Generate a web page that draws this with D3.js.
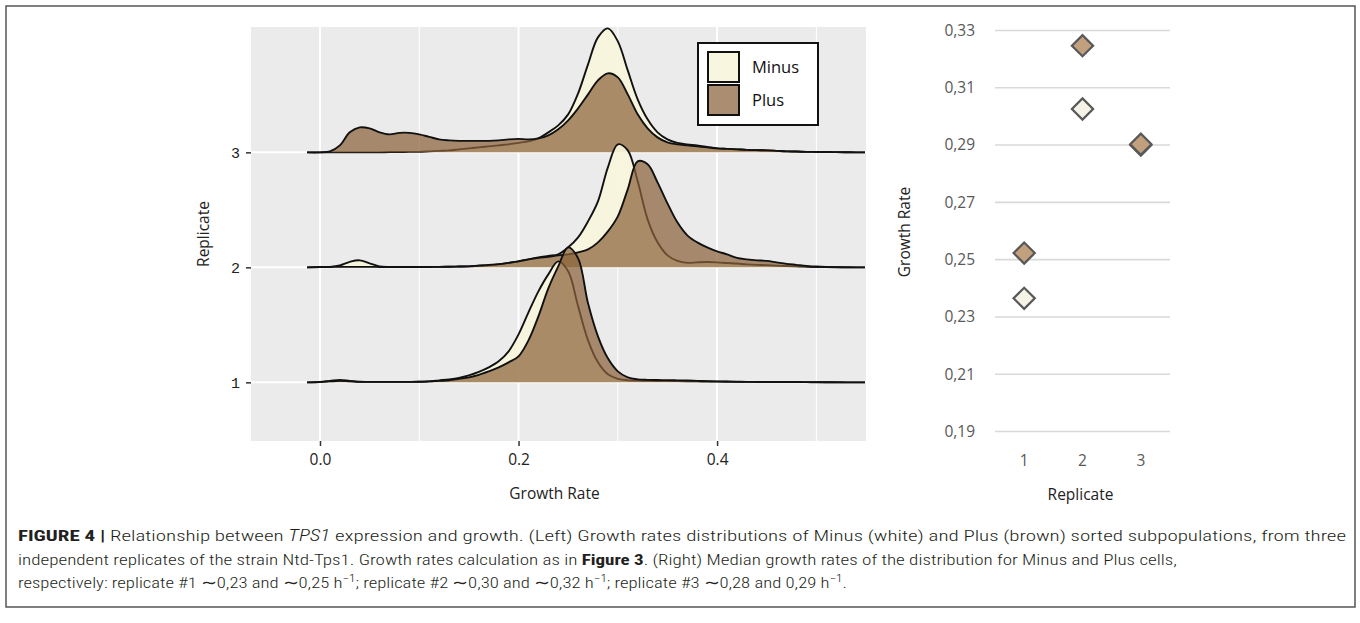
<!DOCTYPE html>
<html>
<head>
<meta charset="utf-8">
<script src="https://cdn.jsdelivr.net/npm/d3@7"></script>
<style>
  body { margin: 0; background: #fff; }
  svg { display: block; }
</style>
</head>
<body>
<svg id="fig" width="1360" height="623"></svg>
<script>
"use strict";

// growth rate grid (h-1) on which the ridge heights were read
var growthGrid = [-0.013, 0.00, 0.01, 0.02, 0.03, 0.04, 0.05, 0.06, 0.07, 0.08, 0.09,
  0.10, 0.11, 0.12, 0.13, 0.14, 0.15, 0.16, 0.17, 0.18, 0.19,
  0.20, 0.21, 0.22, 0.23, 0.24, 0.25, 0.26, 0.27, 0.28, 0.29,
  0.30, 0.31, 0.32, 0.33, 0.34, 0.35, 0.36, 0.37, 0.38, 0.39,
  0.40, 0.41, 0.42, 0.43, 0.44, 0.45, 0.46, 0.47, 0.48, 0.49,
  0.50, 0.51, 0.52, 0.53, 0.54, 0.549];

// ridge heights (density, a.u.; 115 = one replicate row)
var rep3Minus = [0, 0, 0, 0, 0, 0, 0, 0, 0.3, 0.3, 0.5,
  0.5, 1, 1.5, 2, 3, 4, 5, 6, 7, 8,
  9.5, 11, 14, 20, 27, 38, 59, 88, 115, 124,
  111, 82, 53, 33, 20, 13, 9.5, 8, 7, 5.5,
  4, 3.5, 3, 2.5, 2.2, 2, 1.5, 1, 0.8, 0.5,
  0.4, 0.3, 0.2, 0.1, 0, 0];
var rep3Plus = [0, 0, 1, 7, 20, 25, 24, 20, 18, 19.5, 19.5,
  18, 15.5, 13, 12, 11.5, 11.5, 11.5, 11.5, 12, 13,
  13.5, 13, 14, 17, 23, 32, 44, 58, 72, 79,
  75, 58, 38, 24, 15, 10, 8, 7, 6, 5,
  4, 3.5, 3, 2.5, 2.2, 2, 1.5, 1, 0.8, 0.5,
  0.4, 0.3, 0.2, 0.1, 0, 0];
var rep2Minus = [0, 0.2, 0.5, 2, 5.5, 7, 4, 1, 0.4, 0.3, 0.3,
  0.3, 0.4, 0.5, 0.6, 0.8, 1, 1.5, 2, 3, 4.5,
  6, 8, 10, 11.5, 13, 20, 30, 46, 66, 100,
  123, 117, 86, 48, 25, 12, 6.5, 4.5, 5, 5.3,
  5, 4.3, 3.8, 3, 2.5, 2.2, 1.7, 1.3, 1, 0.6,
  0.3, 0.2, 0.1, 0, 0, 0];
var rep2Plus = [0, 0.3, 0.4, 0.5, 0.5, 0.5, 0.5, 0.4, 0.3, 0.3, 0.3,
  0.3, 0.4, 0.5, 0.6, 0.8, 1, 1.8, 2.5, 3.2, 4.5,
  6, 8, 9.5, 10.5, 12, 13, 15, 18, 25, 36,
  51, 78, 106, 103, 85, 64, 45, 32, 25, 20,
  16, 13, 9.5, 8, 7, 6.5, 5, 3.5, 2.5, 1.5,
  0.8, 0.4, 0.2, 0.1, 0, 0];
var rep1Minus = [0, 0.5, 1.5, 2.5, 1.5, 0.6, 0.5, 0.5, 0.5, 0.5, 0.5,
  0.6, 1, 2, 3, 4.5, 7, 10.5, 15, 21, 31,
  48, 70, 91, 108, 121, 111, 76, 42, 20, 8,
  3.5, 2, 1.8, 1.5, 1.3, 1.2, 1.2, 1.1, 1, 0.8,
  0.7, 0.6, 0.5, 0.5, 0.4, 0.4, 0.3, 0.3, 0.2, 0.2,
  0.1, 0.1, 0, 0, 0, 0];
var rep1Plus = [0, 0.3, 1, 1.5, 1, 0.5, 0.5, 0.5, 0.5, 0.5, 0.5,
  0.6, 1, 1.5, 2, 3.5, 5, 7.5, 11, 15, 20,
  26, 42, 66, 94, 116, 135, 124, 79, 46, 24,
  11, 5, 3, 2.5, 2.3, 2.2, 2, 1.8, 1.5, 1.2,
  1, 0.8, 0.6, 0.5, 0.5, 0.4, 0.4, 0.3, 0.3, 0.2,
  0.2, 0.1, 0.1, 0, 0, 0];

var replicates = [1, 2, 3];
var groups = ["Minus", "Plus"];
var growthTicks = [0.0, 0.2, 0.4];
var growthMinor = [0.1, 0.3, 0.5];

// right panel: median growth rates
var medianMinus = [0.2365, 0.3026, 0.2900];
var medianPlus = [0.2523, 0.3247, 0.2903];
var medianTicks = [0.19, 0.21, 0.23, 0.25, 0.27, 0.29, 0.31, 0.33];

var ridges = [
  { rep: 3, group: "Minus", values: rep3Minus },
  { rep: 3, group: "Plus", values: rep3Plus },
  { rep: 2, group: "Minus", values: rep2Minus },
  { rep: 2, group: "Plus", values: rep2Plus },
  { rep: 1, group: "Minus", values: rep1Minus },
  { rep: 1, group: "Plus", values: rep1Plus }
];

var fillColor = { Minus: "#f7f5dc", Plus: "#8b633a" };
var fillOpacity = { Minus: 0.92, Plus: 0.72 };
var dotFill = { Minus: "#f4f3e6", Plus: "#c2a07e" };

var uiFont = "'Open Sans', Lato, sans-serif";
var svg = d3.select("#fig");

// outer frame
svg.append("rect")
  .attr("x", 6).attr("y", 6).attr("width", 1349).attr("height", 601)
  .attr("fill", "none").attr("stroke", "#555").attr("stroke-width", 1.5);

// ---------- left panel: ridgelines ----------
var panel = { left: 251, right: 866, top: 27, bottom: 441 };

var x = d3.scaleLinear().domain([-0.0695, 0.55]).range([panel.left, panel.right]);
var y = d3.scaleLinear().domain([0.49, 4.09]).range([panel.bottom, panel.top]);
var ridgeUnit = 115;
var h = d3.scaleLinear().domain([0, ridgeUnit]).range([0, y(1) - y(2)]);

var left = svg.append("g");

left.append("rect")
  .attr("x", panel.left).attr("y", panel.top)
  .attr("width", panel.right - panel.left).attr("height", panel.bottom - panel.top)
  .attr("fill", "#ebebeb");

left.selectAll(".minor").data(growthMinor).enter().append("line")
  .attr("x1", d => x(d)).attr("x2", d => x(d))
  .attr("y1", panel.top).attr("y2", panel.bottom)
  .attr("stroke", "#fff").attr("stroke-width", 1);

left.selectAll(".major").data(growthTicks).enter().append("line")
  .attr("x1", d => x(d)).attr("x2", d => x(d))
  .attr("y1", panel.top).attr("y2", panel.bottom)
  .attr("stroke", "#fff").attr("stroke-width", 2);

left.selectAll(".hmajor").data(replicates).enter().append("line")
  .attr("x1", panel.left).attr("x2", panel.right)
  .attr("y1", d => y(d)).attr("y2", d => y(d))
  .attr("stroke", "#fff").attr("stroke-width", 2);

svg.append("clipPath").attr("id", "clip")
  .append("rect")
  .attr("x", panel.left).attr("y", panel.top)
  .attr("width", panel.right - panel.left).attr("height", panel.bottom - panel.top);

var ridgeG = left.append("g").attr("clip-path", "url(#clip)");

ridges.forEach(function(r) {
  var base = y(r.rep);
  var area = d3.area()
    .x((d, i) => x(growthGrid[i]))
    .y0(base)
    .y1(d => base - h(d))
    .curve(d3.curveCatmullRom.alpha(0.5));
  var line = d3.line()
    .x((d, i) => x(growthGrid[i]))
    .y(d => base - h(d))
    .curve(d3.curveCatmullRom.alpha(0.5));
  ridgeG.append("path")
    .attr("d", area(r.values))
    .attr("fill", fillColor[r.group])
    .attr("fill-opacity", fillOpacity[r.group]);
  ridgeG.append("path")
    .attr("d", line(r.values))
    .attr("fill", "none")
    .attr("stroke", "#111")
    .attr("stroke-width", 1.9)
    .attr("stroke-linejoin", "round");
});

// axes
var xAxis = left.append("g")
  .attr("transform", "translate(0," + panel.bottom + ")")
  .call(d3.axisBottom(x).tickValues(growthTicks).tickSize(5).tickPadding(8).tickFormat(d3.format(".1f")));
xAxis.select(".domain").remove();
xAxis.selectAll("line").attr("stroke", "#333").attr("stroke-width", 1.5);
xAxis.selectAll("text").attr("font-family", uiFont).attr("font-size", 15.5).attr("fill", "#222");

var yAxis = left.append("g")
  .attr("transform", "translate(" + panel.left + ",0)")
  .call(d3.axisLeft(y).tickValues(replicates).tickSize(5).tickPadding(6).tickFormat(d3.format("d")));
yAxis.select(".domain").remove();
yAxis.selectAll("line").attr("stroke", "#333").attr("stroke-width", 1.5);
yAxis.selectAll("text").attr("font-family", "'Liberation Mono', monospace").attr("font-size", 15).attr("fill", "#222");

left.append("text")
  .attr("x", (panel.left + panel.right) / 2 - 4).attr("y", 499)
  .attr("text-anchor", "middle")
  .attr("font-family", uiFont).attr("font-size", 15.5).attr("fill", "#222")
  .text("Growth Rate");

left.append("text")
  .attr("transform", "translate(209," + ((panel.top + panel.bottom) / 2) + ") rotate(-90)")
  .attr("text-anchor", "middle")
  .attr("font-family", uiFont).attr("font-size", 15.5).attr("fill", "#222")
  .text("Replicate");

// legend
var legend = left.append("g").attr("transform", "translate(698,43)");
legend.append("rect")
  .attr("width", 120).attr("height", 82)
  .attr("fill", "#fff").attr("stroke", "#111").attr("stroke-width", 2);
var keys = legend.selectAll(".key").data(groups).enter().append("g")
  .attr("transform", (d, i) => "translate(10," + (9 + i * 33) + ")");
keys.append("rect")
  .attr("width", 31).attr("height", 30)
  .attr("fill", d => fillColor[d])
  .attr("fill-opacity", d => fillOpacity[d])
  .attr("stroke", "#111").attr("stroke-width", 2);
keys.append("text")
  .attr("x", 44).attr("y", 21)
  .attr("font-family", uiFont).attr("font-size", 16.5).attr("fill", "#111")
  .text(d => d);

// ---------- right panel: medians ----------
var rp = { left: 995, right: 1170, top: 30.5, bottom: 431.5 };
var xr = d3.scaleBand().domain(replicates).range([rp.left, rp.right]);
var yr = d3.scaleLinear().domain([0.19, 0.33]).range([rp.bottom, rp.top]);
var comma = d3.formatLocale({ decimal: ",", thousands: ".", grouping: [3], currency: ["", ""] }).format(".2f");

var right = svg.append("g");

right.selectAll(".grid").data(medianTicks).enter().append("line")
  .attr("x1", rp.left).attr("x2", rp.right)
  .attr("y1", d => yr(d)).attr("y2", d => yr(d))
  .attr("stroke", "#d9d9d9").attr("stroke-width", 1.6);

right.selectAll(".ytick").data(medianTicks).enter().append("text")
  .attr("x", 975).attr("y", d => yr(d)).attr("dy", "0.35em")
  .attr("text-anchor", "end")
  .attr("font-family", uiFont).attr("font-size", 15.5).attr("fill", "#595959")
  .text(d => comma(d));

right.selectAll(".xtick").data(replicates).enter().append("text")
  .attr("x", d => xr(d) + xr.bandwidth() / 2).attr("y", 466)
  .attr("text-anchor", "middle")
  .attr("font-family", uiFont).attr("font-size", 15.5).attr("fill", "#595959")
  .text(d => d);

right.append("text")
  .attr("x", (rp.left + rp.right) / 2 - 2).attr("y", 500)
  .attr("text-anchor", "middle")
  .attr("font-family", uiFont).attr("font-size", 15.5).attr("fill", "#222")
  .text("Replicate");

right.append("text")
  .attr("transform", "translate(910,232) rotate(-90)")
  .attr("text-anchor", "middle")
  .attr("font-family", uiFont).attr("font-size", 15.5).attr("fill", "#222")
  .text("Growth Rate");

var diamond = d3.symbol().type(d3.symbolSquare).size(225);
var medians = [];
replicates.forEach(function(r, i) {
  medians.push({ rep: r, group: "Minus", value: medianMinus[i] });
  medians.push({ rep: r, group: "Plus", value: medianPlus[i] });
});

right.selectAll(".dot").data(medians).enter().append("path")
  .attr("d", diamond)
  .attr("transform", d => "translate(" + (xr(d.rep) + xr.bandwidth() / 2) + "," + yr(d.value) + ") rotate(45)")
  .attr("fill", d => dotFill[d.group])
  .attr("stroke", "#585858").attr("stroke-width", 2.2);

// ---------- caption ----------
var capFont = "'Liberation Sans Narrow', 'Roboto Condensed', Roboto, 'Liberation Sans', Arial, sans-serif";
var captionLines = [
  { y: 541, len: 1328, parts: [
    { t: "FIGURE 4 |", b: true }, { t: " Relationship between " }, { t: "TPS1", i: true },
    { t: " expression and growth. (Left) Growth rates distributions of Minus (white) and Plus (brown) sorted subpopulations, from three" }] },
  { y: 565, len: 1159, parts: [
    { t: "independent replicates of the strain Ntd-Tps1. Growth rates calculation as in " }, { t: "Figure 3", b: true },
    { t: ". (Right) Median growth rates of the distribution for Minus and Plus cells," }] },
  { y: 588, len: 829, parts: [
    { t: "respectively: replicate #1 \u223C0,23 and \u223C0,25 h" }, { t: "\u22121", s: true },
    { t: "; replicate #2 \u223C0,30 and \u223C0,32 h" }, { t: "\u22121", s: true },
    { t: "; replicate #3 \u223C0,28 and 0,29 h" }, { t: "\u22121", s: true }, { t: "." }] }
];

captionLines.forEach(function(l) {
  var txt = svg.append("text")
    .attr("x", 18).attr("y", l.y)
    .attr("font-family", capFont).attr("font-size", 15.5).attr("font-weight", 300).attr("fill", "#231f20")
    .attr("textLength", l.len).attr("lengthAdjust", "spacingAndGlyphs");
  l.parts.forEach(function(p) {
    var ts = txt.append("tspan").text(p.t);
    if (p.b) ts.attr("font-weight", "bold");
    if (p.i) ts.attr("font-style", "italic");
    if (p.s) ts.attr("font-size", 11).attr("baseline-shift", "6");
  });
});
</script>
</body>
</html>
